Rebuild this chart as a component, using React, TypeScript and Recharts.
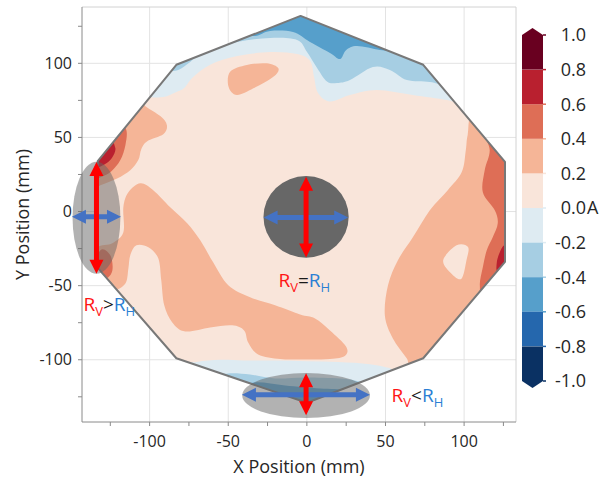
import React from 'react';
import { ComposedChart, Scatter, XAxis, YAxis, CartesianGrid, ReferenceLine, BarChart, Bar } from 'recharts';

const FONT = '"Open Sans", "Noto Sans", sans-serif';

// colour levels (A) and their fills, lowest first
const levels = [-1, -0.8, -0.6, -0.4, -0.2, 0, 0.2, 0.4, 0.6, 0.8, 1];
const levelColors = ['#0a3163', '#2567ad', '#569fcb', '#a6cee3', '#deebf2', '#f9e5da', '#f5b597', '#de6e56', '#b9202f', '#690020'];

// axes (mm)
const axisTicks = [-125, -100, -75, -50, -25, 0, 25, 50, 75, 100, 125];
const gridTicks = [-100, -50, 0, 50, 100];
const xDomain = [-143, 133];
const yDomain = [-142, 138];

// wafer outline, [x, y] in mm
const octagon = [[-4, 132], [74, 99], [126, 33.5], [126, -34], [74, -99], [0, -129], [-83, -99], [-133, -38], [-133, 34], [-83, 99]];

// 0.2 .. 0.4 A
const orangeTop = [[-48.8, 94.3], [-38.2, 98.9], [-25.5, 100], [-18.1, 96.6], [-21.3, 90.9], [-34, 83.1], [-44.5, 78.6], [-49.8, 84.2]];
const orangeUpperLeft = [[-105.9, 75.2], [-102.7, 71.1], [-93.2, 64.4], [-89, 58.3], [-91.3, 52.2], [-101.5, 47.5], [-105.3, 42.1], [-107.2, 34.7], [-112.3, 27.9], [-120.7, 22.3], [-131.3, 17.8], [-140.8, 14.4], [-142, 61.7]];
const orangeBand = [[-105.9, 19.1], [-97.7, 14.4], [-86.9, 2.9], [-76.1, -7.9], [-67.8, -19.4], [-59.6, -34.3], [-50, -49.8], [-36.1, -57.9], [-20.2, -63.3], [-4.3, -69.5], [5.2, -72.1], [14.7, -80.2], [24.9, -91], [24.3, -97.3], [14.7, -99.5], [-4.3, -99.8], [-17, -99.5], [-31, -96.4], [-37.3, -88.3], [-39.9, -80.2], [-47.5, -76.8], [-61.5, -78.2], [-77.3, -80.9], [-85.6, -74.8], [-90.7, -63.3], [-92.6, -46.4], [-94.5, -31.6], [-100.8, -24.1], [-108.4, -22.8], [-112.3, -29.5], [-113.5, -38.4], [-115.4, -48.5], [-123, -53.2], [-131.3, -49.8], [-134.5, -26.1], [-123.7, -21.4], [-116.7, -14], [-116.7, 2.9], [-113.5, 13]];
const orangeRight = [[106.8, 67.3], [102.3, 51.8], [101.1, 41.6], [98.5, 26.6], [89.6, 14.4], [78.2, 0.9], [67.4, -17.4], [57.9, -32.9], [51.6, -49.8], [49.6, -70.1], [54.7, -85.6], [63.6, -99.1], [71.9, -110.6], [132, -60], [132, 62]];
// 0 .. 0.2 A island inside the right band
const peachHole = [[86.7, -32.9], [95.2, -22.8], [102.5, -23.9], [101.5, -32.9], [98.3, -45.3], [92, -41.9]];
// 0.4 .. 0.6 A
const redUpperLeft = [[-119.9, 60.3], [-114.8, 55], [-115.4, 44.8], [-118.6, 34.7], [-124.3, 27.2], [-131.3, 23.2], [-140.8, 21.2], [-137.7, 54.9]];
const redLowerLeft = [[-131.3, -26.1], [-125, -29.5], [-123.7, -39.7], [-128.1, -45.1], [-136.4, -41]];
const redRight = [[113.1, 54.9], [116.3, 41.4], [113.1, 27.9], [111.9, 13], [119.5, 0.9], [121.4, -7.9], [118.2, -17.4], [114.4, -26.1], [111.9, -37.6], [110, -49.8], [113.1, -56.6], [132, -46], [132, 48]];
// 0.6 .. 0.8 A
const darkUpperLeft = [[-126.2, 48.2], [-121.8, 42.8], [-123.7, 36.7], [-127.5, 32.6], [-133.8, 29.9], [-138.9, 34.7]];
const darkRight = [[120.8, -34.3], [122.7, -27.5], [125.8, -22.8], [130.3, -26.1], [129, -41], [121.4, -41]];
// negative bands along the top and bottom edges
const blueTop02 = [[-102.7, 77.8], [-91.3, 77.2], [-83, 80.6], [-78, 83.3], [-72.3, 90.7], [-61.5, 99.1], [-44.3, 104.9], [-23.4, 107.6], [-6.2, 106.3], [2.1, 101.6], [4.6, 90.7], [7.1, 79.9], [14.7, 74.2], [27.4, 78.6], [44.6, 82], [67.4, 78.6], [89, 75.2], [100.4, 72.5], [116, 76], [118, 137], [-112, 137], [-112, 82]];
const blueTop04 = [[-90, 95.5], [-81.8, 95.5], [-74.2, 100.9], [-65.9, 107.6], [-44.3, 114.4], [-23.4, 117.1], [-6.2, 115.7], [0.1, 107.6], [6.5, 96.8], [12.8, 87.7], [19.2, 86.7], [27.4, 88.7], [42, 97.5], [52.8, 95.5], [63.6, 88.7], [78.2, 87.4], [89, 85.3], [110, 88], [112, 137], [-105, 137], [-105, 100]];
const blueTop06 = [[-42.4, 121.1], [-32.9, 118.4], [-23.4, 121.8], [-8.8, 121.1], [2, 114.4], [14.7, 107], [21.1, 102.9], [24.9, 108.9], [31.9, 111.7], [46.5, 109], [57.3, 107.6], [67.4, 103.6], [73.1, 100.9], [84.6, 115.7], [-4, 137], [-55, 130]];
const blueBottom02 = [[-80.5, -106], [-70, -101.5], [-55, -100], [-40, -100.5], [-20, -100.5], [0, -101], [20, -101.5], [40, -103], [55, -106.5], [62, -112], [46, -141], [-74, -141]];
const blueBottom04 = [[-58.3, -113.3], [-50, -109.3], [-36.1, -110], [-20.2, -112.6], [-1.1, -111.9], [21.1, -112.6], [33.8, -114.7], [41.4, -118], [33.8, -141], [-55.1, -141]];
const blueBottom06 = [[-45.6, -119.4], [-32.9, -115.3], [-13.8, -117.4], [8.4, -119.4], [24.3, -120.7], [27.4, -127.5], [-17, -134.3], [-42.4, -126.2]];

// probe spots: [centre, centre + radii]
const spotCenter = [[-0.5, -3.6], [26.6, 23.9]];
const spotLeft = [[-133.8, -4.2], [-118.6, 33.6]];
const spotBottom = [[-0.5, -124.1], [40.1, -108.9]];
// double arrows: [centre, one end]
const arrowsV = [[[-0.5, -3.8], [-0.5, 23.4]], [[-133.8, -4.2], [-133.8, 33.5]], [[-0.5, -123.3], [-0.5, -109.1]]];
const arrowsH = [[[-0.6, -4.1], [26.3, -4.1]], [[-133.8, -3.6], [-118.2, -3.6]], [[-0.6, -123.6], [40.1, -123.6]]];
// text anchors (left, baseline)
const notes = [{ x: -142.1, y: -67.4, sign: '>' }, { x: -18.1, y: -50.9, sign: '=' }, { x: 53.9, y: -128.6, sign: '<' }];

const toPts = (a: number[][]) => a.map(([x, y]) => ({ x, y }));

const regions = [
  { pts: orangeTop, c: levelColors[6] },
  { pts: orangeUpperLeft, c: levelColors[6] },
  { pts: orangeBand, c: levelColors[6] },
  { pts: orangeRight, c: levelColors[6] },
  { pts: peachHole, c: levelColors[5] },
  { pts: redUpperLeft, c: levelColors[7] },
  { pts: redLowerLeft, c: levelColors[7] },
  { pts: redRight, c: levelColors[7] },
  { pts: darkUpperLeft, c: levelColors[8] },
  { pts: darkRight, c: levelColors[8] },
  { pts: blueTop02, c: levelColors[4] },
  { pts: blueTop04, c: levelColors[3] },
  { pts: blueTop06, c: levelColors[2] },
  { pts: blueBottom02, c: levelColors[4] },
  { pts: blueBottom04, c: levelColors[3] },
  { pts: blueBottom06, c: levelColors[2] },
];

type P = { x: number; y: number };

// closed catmull-rom through the scaled points
function smoothPath(pts: P[]) {
  const n = pts.length;
  let d = `M${pts[0].x},${pts[0].y}`;
  for (let i = 0; i < n; i++) {
    const p0 = pts[(i - 1 + n) % n], p1 = pts[i], p2 = pts[(i + 1) % n], p3 = pts[(i + 2) % n];
    d += `C${p1.x + (p2.x - p0.x) / 6},${p1.y + (p2.y - p0.y) / 6} ${p2.x - (p3.x - p1.x) / 6},${p2.y - (p3.y - p1.y) / 6} ${p2.x},${p2.y}`;
  }
  return d + 'Z';
}
const polyPath = (pts: P[]) => 'M' + pts.map((q) => `${q.x},${q.y}`).join('L') + 'Z';

const noDot = () => <g />;

const waferBase = (p: any) => {
  const d = polyPath(p.points);
  return (
    <g>
      <defs>
        <clipPath id="wafer-clip">
          <path d={d} />
        </clipPath>
      </defs>
      <path d={d} fill={levelColors[5]} />
    </g>
  );
};
const waferEdge = (p: any) => <path d={polyPath(p.points)} fill="none" stroke="#787878" strokeWidth={2} strokeLinejoin="round" />;
const regionLine = (fill: string) => (p: any) => <path d={smoothPath(p.points)} fill={fill} clipPath="url(#wafer-clip)" />;
const ellipseLine = (fill: string, opacity: number) => (p: any) => {
  const [c, k] = p.points;
  return <ellipse cx={c.x} cy={c.y} rx={Math.abs(k.x - c.x)} ry={Math.abs(k.y - c.y)} fill={fill} fillOpacity={opacity} />;
};
const arrowLine = (color: string) => (p: any) => {
  const [c, e] = p.points;
  const a = { x: 2 * c.x - e.x, y: 2 * c.y - e.y };
  const dx = e.x - a.x, dy = e.y - a.y;
  const len = Math.hypot(dx, dy) || 1;
  const ux = dx / len, uy = dy / len, nx = -uy, ny = ux;
  const hl = 14, hw = 14, w = 5;
  const at = (s: number, t: number) => `${a.x + ux * s + nx * t},${a.y + uy * s + ny * t}`;
  const pts = [at(0, 0), at(hl, hw / 2), at(hl, w / 2), at(len - hl, w / 2), at(len - hl, hw / 2), at(len, 0),
    at(len - hl, -hw / 2), at(len - hl, -w / 2), at(hl, -w / 2), at(hl, -hw / 2)];
  return <polygon points={pts.join(' ')} fill={color} />;
};
const noteShape = (sign: string) => (p: any) => (
  <text x={p.cx} y={p.cy} fontFamily={FONT} fontSize={19}>
    <tspan fill="#ff1414">R</tspan>
    <tspan fill="#ff1414" fontSize={13} dy={5}>V</tspan>
    <tspan fill="#1a1a1a" dy={-5}>{sign}</tspan>
    <tspan fill="#2b7fd4">R</tspan>
    <tspan fill="#2b7fd4" fontSize={13} dy={5}>H</tspan>
  </text>
);

const XTick = (p: any) =>
  p.payload.value % 50 === 0 ? (
    <text x={p.x} y={p.y} dy="0.71em" textAnchor="middle" fill="#262626" fontSize={16} fontFamily={FONT}>{p.payload.value}</text>
  ) : <g />;
const YTick = (p: any) =>
  p.payload.value % 50 === 0 ? (
    <text x={p.x} y={p.y} dy="0.35em" textAnchor="end" fill="#262626" fontSize={16} fontFamily={FONT}>{p.payload.value}</text>
  ) : <g />;
const XTitle = (p: any) => {
  const vb = p.viewBox || { x: 82, y: 422, width: 434, height: 57 };
  return <text x={vb.x + vb.width / 2} y={vb.y + vb.height - 6} textAnchor="middle" fill="#262626" fontSize={18} fontFamily={FONT}>X Position (mm)</text>;
};
const YTitle = (p: any) => {
  const vb = p.viewBox || { x: 0, y: 7, width: 82, height: 415 };
  const cx = vb.x + 22, cy = vb.y + vb.height / 2;
  return <text x={cx} y={cy} transform={`rotate(-90 ${cx} ${cy})`} textAnchor="middle" dominantBaseline="central" fill="#262626" fontSize={18} fontFamily={FONT}>Y Position (mm)</text>;
};

// colour bar
const cbKeys = levelColors.map((_, i) => `s${i}`);
const cbRow = [Object.fromEntries([['name', 'A'], ...cbKeys.map((k, i) => [k, levels[i] < 0 ? levels[i] - levels[i + 1] : levels[i + 1] - levels[i]])])];
const cbOrder = [...cbKeys.map((_, i) => i).filter((i) => levels[i] < 0).reverse(), ...cbKeys.map((_, i) => i).filter((i) => levels[i] >= 0)];

const cbShape = (idx: number) => (p: any) => {
  const { x, y, width, height } = p;
  const top = Math.min(y, y + height), bot = Math.max(y, y + height);
  const fill = levelColors[idx];
  if (idx === levelColors.length - 1)
    return <path d={`M${x},${bot}L${x},${top}L${x + width / 2},${top - 7}L${x + width},${top}L${x + width},${bot}Z`} fill={fill} />;
  if (idx === 0)
    return <path d={`M${x},${top}L${x},${bot}L${x + width / 2},${bot + 7}L${x + width},${bot}L${x + width},${top}Z`} fill={fill} />;
  return <rect x={x} y={top} width={width} height={bot - top} fill={fill} />;
};
const CbTick = (p: any) => {
  const v = p.payload.value;
  const i = levels.indexOf(v);
  const seg = v > 0 ? i - 1 : v < 0 ? i : 4;
  return (
    <g>
      <line x1={p.x - 8} x2={p.x - 5} y1={p.y} y2={p.y} stroke={levelColors[seg]} strokeWidth={1.5} />
      <text x={p.x + 35} y={p.y} dy="0.35em" textAnchor="end" fill="#262626" fontSize={18} fontFamily={FONT}>{v.toFixed(1)}</text>
      {v === 0 && <text x={p.x + 36} y={p.y} dy="0.35em" fill="#262626" fontSize={18} fontFamily={FONT}>A</text>}
    </g>
  );
};

export default function App() {
  return (
    <div style={{ position: 'absolute', left: 0, top: 0, width: 601, height: 479, background: '#fff' }}>
      <div style={{ position: 'absolute', left: 0, top: 0 }}>
        <ComposedChart width={601} height={479} margin={{ top: 7, right: 85, bottom: 0, left: 0 }}>
          <CartesianGrid stroke="#e3e3e3" verticalValues={gridTicks} horizontalValues={gridTicks} />
          <XAxis type="number" dataKey="x" domain={xDomain} ticks={axisTicks} interval={0} height={57}
            stroke="#8a8a8a" tickSize={4} tickMargin={10} tick={XTick} label={XTitle} />
          <YAxis type="number" dataKey="y" domain={yDomain} ticks={axisTicks} interval={0} width={82}
            stroke="#8a8a8a" tickSize={4} tickMargin={6} tick={YTick} label={YTitle} />
          <ReferenceLine x={xDomain[1]} stroke="#d2d2d2" />
          <ReferenceLine y={yDomain[1]} stroke="#d2d2d2" />
          <Scatter data={toPts(octagon)} line={waferBase} shape={noDot} isAnimationActive={false} />
          {regions.map((r, i) => (
            <Scatter key={`r${i}`} data={toPts(r.pts)} line={regionLine(r.c)} shape={noDot} isAnimationActive={false} />
          ))}
          <Scatter data={toPts(octagon)} line={waferEdge} shape={noDot} isAnimationActive={false} />
          <Scatter data={toPts(spotLeft)} line={ellipseLine('#666', 0.5)} shape={noDot} isAnimationActive={false} />
          <Scatter data={toPts(spotBottom)} line={ellipseLine('#666', 0.5)} shape={noDot} isAnimationActive={false} />
          <Scatter data={toPts(spotCenter)} line={ellipseLine('#676767', 1)} shape={noDot} isAnimationActive={false} />
          {arrowsH.map((a, i) => (
            <Scatter key={`h${i}`} data={toPts(a)} line={arrowLine('#4472c4')} shape={noDot} isAnimationActive={false} />
          ))}
          {arrowsV.map((a, i) => (
            <Scatter key={`v${i}`} data={toPts(a)} line={arrowLine('#ff0000')} shape={noDot} isAnimationActive={false} />
          ))}
          {notes.map((n, i) => (
            <Scatter key={`n${i}`} data={[{ x: n.x, y: n.y }]} shape={noteShape(n.sign)} isAnimationActive={false} />
          ))}
        </ComposedChart>
      </div>
      <div style={{ position: 'absolute', left: 500, top: 0 }}>
        <BarChart width={101} height={420} data={cbRow} margin={{ top: 35, right: 0, bottom: 39, left: 22 }}
          barCategoryGap={0} stackOffset="sign">
          <XAxis dataKey="name" hide />
          <YAxis orientation="right" type="number" domain={[-1, 1]} ticks={levels} interval={0} width={58}
            axisLine={false} tickLine={false} tickSize={6} tickMargin={2} tick={CbTick} />
          {cbOrder.map((i) => (
            <Bar key={cbKeys[i]} dataKey={cbKeys[i]} stackId="cb" shape={cbShape(i)} isAnimationActive={false} />
          ))}
        </BarChart>
      </div>
    </div>
  );
}
